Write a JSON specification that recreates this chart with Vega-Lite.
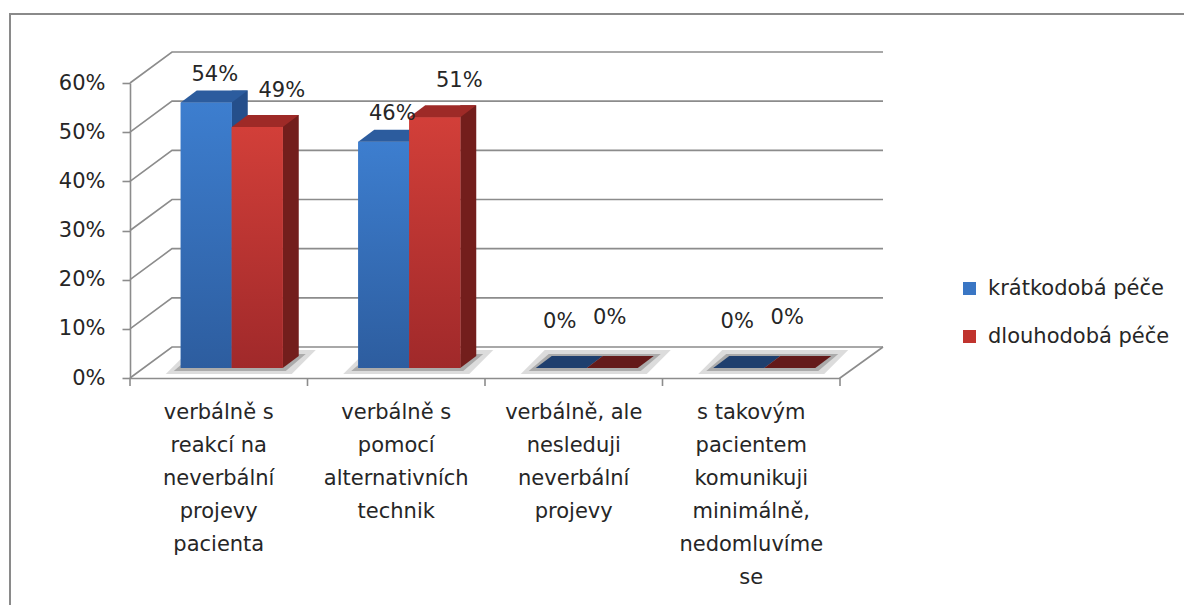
{
  "$schema": "https://vega.github.io/schema/vega-lite/v6.json",
  "width": 710,
  "height": 295,
  "autosize": "none",
  "padding": {"left": 143, "top": 73, "right": 331, "bottom": 237},
  "background": "white",
  "config": {"view": {"stroke": null}, "font": "DejaVu Sans"},
  "datasets": {
    "bars": [
      {"kategorie": "verbálně s reakcí na neverbální projevy pacienta", "skupina": "krátkodobá péče", "podil": 0.54},
      {"kategorie": "verbálně s reakcí na neverbální projevy pacienta", "skupina": "dlouhodobá péče", "podil": 0.49},
      {"kategorie": "verbálně s pomocí alternativních technik", "skupina": "krátkodobá péče", "podil": 0.46},
      {"kategorie": "verbálně s pomocí alternativních technik", "skupina": "dlouhodobá péče", "podil": 0.51},
      {"kategorie": "verbálně, ale nesleduji neverbální projevy", "skupina": "krátkodobá péče", "podil": 0},
      {"kategorie": "verbálně, ale nesleduji neverbální projevy", "skupina": "dlouhodobá péče", "podil": 0},
      {"kategorie": "s takovým pacientem komunikuji minimálně, nedomluvíme se", "skupina": "krátkodobá péče", "podil": 0},
      {"kategorie": "s takovým pacientem komunikuji minimálně, nedomluvíme se", "skupina": "dlouhodobá péče", "podil": 0}
    ],
    "ticks": [{"t": 0}, {"t": 0.1}, {"t": 0.2}, {"t": 0.3}, {"t": 0.4}, {"t": 0.5}, {"t": 0.6}],
    "cats": [
      {"kategorie": "verbálně s reakcí na neverbální projevy pacienta"},
      {"kategorie": "verbálně s pomocí alternativních technik"},
      {"kategorie": "verbálně, ale nesleduji neverbální projevy"},
      {"kategorie": "s takovým pacientem komunikuji minimálně, nedomluvíme se"}
    ]
  },
  "layer": [
    {
      "data": {"name": "ticks"},
      "transform": [{"filter": "datum.t == 0.6"}],
      "mark": {"type": "point", "shape": "M -133 545 L -133 -59 L 1050 -59", "size": 4, "filled": false, "stroke": "#8a8a8a", "strokeWidth": 2, "opacity": 1},
      "encoding": {
        "x": {"datum": "verbálně s reakcí na neverbální projevy pacienta", "type": "nominal", "bandPosition": 0, "title": null},
        "y": {"field": "t", "type": "quantitative", "title": null}
      }
    },
    {
      "data": {"name": "ticks"},
      "mark": {"type": "point", "shape": "M -13 10 L 29 -21 L 740 -21", "size": 4, "filled": false, "stroke": "#8c8c8c", "strokeWidth": 1.6, "opacity": 1},
      "encoding": {
        "x": {"datum": "verbálně s reakcí na neverbální projevy pacienta", "type": "nominal", "bandPosition": 0, "title": null},
        "y": {"field": "t", "type": "quantitative", "title": null}
      }
    },
    {
      "data": {"name": "ticks"},
      "transform": [{"filter": "datum.t == 0"}],
      "mark": {"type": "point", "shape": "M -13 18 L -13 10 L 30 -21", "size": 4, "filled": false, "stroke": "#8c8c8c", "strokeWidth": 1.6, "opacity": 1},
      "encoding": {
        "x": {"datum": "s takovým pacientem komunikuji minimálně, nedomluvíme se", "type": "nominal", "bandPosition": 1, "title": null},
        "y": {"field": "t", "type": "quantitative", "title": null}
      }
    },
    {
      "data": {"name": "cats"},
      "mark": {"type": "point", "shape": "M -13 10 L -13 18", "size": 4, "filled": false, "stroke": "#8c8c8c", "strokeWidth": 1.6, "opacity": 1},
      "encoding": {
        "x": {"field": "kategorie", "type": "nominal", "bandPosition": 0, "title": null},
        "y": {"datum": 0, "type": "quantitative", "title": null}
      }
    },
    {
      "data": {"name": "cats"},
      "mark": {"type": "point", "shape": "M -66 6 L 60 6 L 84 -18 L -42 -18 Z", "size": 4, "filled": true, "fill": "#dcdcdc", "opacity": 1, "strokeWidth": 0},
      "encoding": {
        "x": {"field": "kategorie", "type": "nominal", "title": null},
        "y": {"datum": 0, "type": "quantitative", "title": null}
      }
    },
    {
      "data": {"name": "cats"},
      "mark": {"type": "point", "shape": "M -58 3 L 54 3 L 74 -14 L -38 -14 Z", "size": 4, "filled": true, "fill": "#ababab", "opacity": 1, "strokeWidth": 0},
      "encoding": {
        "x": {"field": "kategorie", "type": "nominal", "title": null},
        "y": {"datum": 0, "type": "quantitative", "title": null}
      }
    },
    {
      "data": {"name": "bars"},
      "transform": [{"filter": "datum.skupina == 'krátkodobá péče' && datum.podil > 0"}],
      "mark": {"type": "rule", "strokeWidth": 16, "strokeCap": "butt", "color": "#254f8b", "xOffset": 8, "yOffset": -12, "y2Offset": -12},
      "encoding": {
        "x": {"field": "kategorie", "type": "nominal", "title": null},
        "y": {"field": "podil", "type": "quantitative", "title": null},
        "y2": {"datum": 0}
      }
    },
    {
      "data": {"name": "bars"},
      "transform": [{"filter": "datum.skupina == 'krátkodobá péče' && datum.podil > 0"}],
      "mark": {"type": "point", "shape": "M 0 -12 L 0 0 L 16 -12 Z", "size": 4, "filled": true, "fill": "#254f8b", "opacity": 1, "strokeWidth": 0},
      "encoding": {
        "x": {"field": "kategorie", "type": "nominal", "title": null},
        "y": {"datum": 0, "type": "quantitative", "title": null}
      }
    },
    {
      "data": {"name": "bars"},
      "transform": [{"filter": "datum.skupina == 'krátkodobá péče'"}],
      "mark": {"type": "bar", "width": 51, "xOffset": -25.5},
      "encoding": {
        "x": {
          "field": "kategorie", "type": "nominal", "sort": null, "title": null,
          "scale": {"domain": ["verbálně s reakcí na neverbální projevy pacienta", "verbálně s pomocí alternativních technik", "verbálně, ale nesleduji neverbální projevy", "s takovým pacientem komunikuji minimálně, nedomluvíme se"], "paddingInner": 0, "paddingOuter": 0},
          "axis": {
            "title": null, "orient": "bottom", "position": -13, "offset": 10, "ticks": false,
            "labelAngle": 0, "labelAlign": "center", "labelBaseline": "top", "labelFontSize": 21, "labelFont": "DejaVu Sans", "labelColor": "#262626",
            "labelLineHeight": 33, "labelPadding": 23, "labelLimit": 300, "labelOverlap": false,
            "domainColor": "#8c8c8c", "domainWidth": 1.6, "grid": false,
            "labelExpr": "datum.value == 'verbálně s reakcí na neverbální projevy pacienta' ? ['verbálně s','reakcí na','neverbální','projevy','pacienta'] : datum.value == 'verbálně s pomocí alternativních technik' ? ['verbálně s','pomocí','alternativních','technik'] : datum.value == 'verbálně, ale nesleduji neverbální projevy' ? ['verbálně, ale','nesleduji','neverbální','projevy'] : ['s takovým','pacientem','komunikuji','minimálně,','nedomluvíme','se']"
          }
        },
        "y": {
          "field": "podil", "type": "quantitative", "title": null,
          "scale": {"domain": [0, 0.6], "nice": false, "zero": true},
          "axis": {
            "title": null, "values": [0, 0.1, 0.2, 0.3, 0.4, 0.5, 0.6], "format": ".0%", "grid": false,
            "position": 10, "offset": 13, "labelFontSize": 21, "labelFont": "DejaVu Sans", "labelColor": "#262626", "labelPadding": 17,
            "tickSize": 8, "tickColor": "#8c8c8c", "tickWidth": 1.6, "domainColor": "#8c8c8c", "domainWidth": 1.6
          }
        },
        "color": {
          "field": "skupina", "type": "nominal",
          "scale": {"domain": ["krátkodobá péče", "dlouhodobá péče"], "range": ["#3a76c4", "#c0332e"]},
          "legend": {"orient": "none", "legendX": 816, "legendY": 205, "title": null, "symbolType": "square", "symbolSize": 169, "symbolStrokeWidth": 0, "labelFontSize": 21, "labelFont": "DejaVu Sans", "labelColor": "#262626", "labelLimit": 400, "rowPadding": 26, "labelOffset": 8, "padding": 0}
        }
      }
    },
    {
      "data": {"name": "bars"},
      "transform": [{"filter": "datum.skupina == 'krátkodobá péče'"}],
      "mark": {"type": "bar", "width": 51, "xOffset": -25.5, "fill": {"gradient": "linear", "x1": 0, "y1": 0, "x2": 0, "y2": 1, "stops": [{"offset": 0, "color": "#3d7ecf"}, {"offset": 1, "color": "#2d5d9f"}]}},
      "encoding": {
        "x": {"field": "kategorie", "type": "nominal", "title": null},
        "y": {"field": "podil", "type": "quantitative", "title": null}
      }
    },
    {
      "data": {"name": "bars"},
      "transform": [{"filter": "datum.skupina == 'krátkodobá péče'"}],
      "mark": {"type": "point", "shape": "M -51 0 L 0 0 L 16 -12 L -35 -12 Z", "size": 4, "filled": true, "opacity": 1, "strokeWidth": 0},
      "encoding": {
        "x": {"field": "kategorie", "type": "nominal", "title": null},
        "y": {"field": "podil", "type": "quantitative", "title": null},
        "fill": {"condition": {"test": "datum.podil == 0", "value": "#1f3f6e"}, "value": "#2c5c9e"}
      }
    },
    {
      "data": {"name": "bars"},
      "transform": [{"filter": "datum.skupina == 'dlouhodobá péče' && datum.podil > 0"}],
      "mark": {"type": "rule", "strokeWidth": 16, "strokeCap": "butt", "color": "#731e1c", "xOffset": 59, "yOffset": -12, "y2Offset": -12},
      "encoding": {
        "x": {"field": "kategorie", "type": "nominal", "title": null},
        "y": {"field": "podil", "type": "quantitative", "title": null},
        "y2": {"datum": 0}
      }
    },
    {
      "data": {"name": "bars"},
      "transform": [{"filter": "datum.skupina == 'dlouhodobá péče' && datum.podil > 0"}],
      "mark": {"type": "point", "shape": "M 51 -12 L 51 0 L 67 -12 Z", "size": 4, "filled": true, "fill": "#731e1c", "opacity": 1, "strokeWidth": 0},
      "encoding": {
        "x": {"field": "kategorie", "type": "nominal", "title": null},
        "y": {"datum": 0, "type": "quantitative", "title": null}
      }
    },
    {
      "data": {"name": "bars"},
      "transform": [{"filter": "datum.skupina == 'dlouhodobá péče'"}],
      "mark": {"type": "bar", "width": 51, "xOffset": 25.5},
      "encoding": {
        "x": {"field": "kategorie", "type": "nominal", "title": null},
        "y": {"field": "podil", "type": "quantitative", "title": null},
        "color": {"field": "skupina", "type": "nominal"}
      }
    },
    {
      "data": {"name": "bars"},
      "transform": [{"filter": "datum.skupina == 'dlouhodobá péče'"}],
      "mark": {"type": "bar", "width": 51, "xOffset": 25.5, "fill": {"gradient": "linear", "x1": 0, "y1": 0, "x2": 0, "y2": 1, "stops": [{"offset": 0, "color": "#d23f39"}, {"offset": 1, "color": "#a0292a"}]}},
      "encoding": {
        "x": {"field": "kategorie", "type": "nominal", "title": null},
        "y": {"field": "podil", "type": "quantitative", "title": null}
      }
    },
    {
      "data": {"name": "bars"},
      "transform": [{"filter": "datum.skupina == 'dlouhodobá péče'"}],
      "mark": {"type": "point", "shape": "M 0 0 L 51 0 L 67 -12 L 16 -12 Z", "size": 4, "filled": true, "opacity": 1, "strokeWidth": 0},
      "encoding": {
        "x": {"field": "kategorie", "type": "nominal", "title": null},
        "y": {"field": "podil", "type": "quantitative", "title": null},
        "fill": {"condition": {"test": "datum.podil == 0", "value": "#641a1a"}, "value": "#9e2a27"}
      }
    },
    {
      "data": {"name": "bars"},
      "transform": [{"filter": "datum.skupina == 'krátkodobá péče' && datum.podil > 0"}],
      "mark": {"type": "text", "dx": -17, "dy": -28, "fontSize": 21, "font": "DejaVu Sans", "color": "#262626", "baseline": "middle"},
      "encoding": {
        "x": {"field": "kategorie", "type": "nominal", "title": null},
        "y": {"field": "podil", "type": "quantitative", "title": null},
        "text": {"field": "podil", "type": "quantitative", "format": ".0%"}
      }
    },
    {
      "data": {"name": "bars"},
      "transform": [{"filter": "datum.skupina == 'dlouhodobá péče' && datum.podil > 0"}],
      "mark": {"type": "text", "dx": 50, "dy": -36, "fontSize": 21, "font": "DejaVu Sans", "color": "#262626", "baseline": "middle"},
      "encoding": {
        "x": {"field": "kategorie", "type": "nominal", "title": null},
        "y": {"field": "podil", "type": "quantitative", "title": null},
        "text": {"field": "podil", "type": "quantitative", "format": ".0%"}
      }
    },
    {
      "data": {"name": "bars"},
      "transform": [{"filter": "datum.skupina == 'krátkodobá péče' && datum.podil == 0"}],
      "mark": {"type": "text", "dx": -27, "dy": -46, "fontSize": 21, "font": "DejaVu Sans", "color": "#262626", "baseline": "middle"},
      "encoding": {
        "x": {"field": "kategorie", "type": "nominal", "title": null},
        "y": {"field": "podil", "type": "quantitative", "title": null},
        "text": {"field": "podil", "type": "quantitative", "format": ".0%"}
      }
    },
    {
      "data": {"name": "bars"},
      "transform": [{"filter": "datum.skupina == 'dlouhodobá péče' && datum.podil == 0"}],
      "mark": {"type": "text", "dx": 23, "dy": -50, "fontSize": 21, "font": "DejaVu Sans", "color": "#262626", "baseline": "middle"},
      "encoding": {
        "x": {"field": "kategorie", "type": "nominal", "title": null},
        "y": {"field": "podil", "type": "quantitative", "title": null},
        "text": {"field": "podil", "type": "quantitative", "format": ".0%"}
      }
    }
  ]
}
